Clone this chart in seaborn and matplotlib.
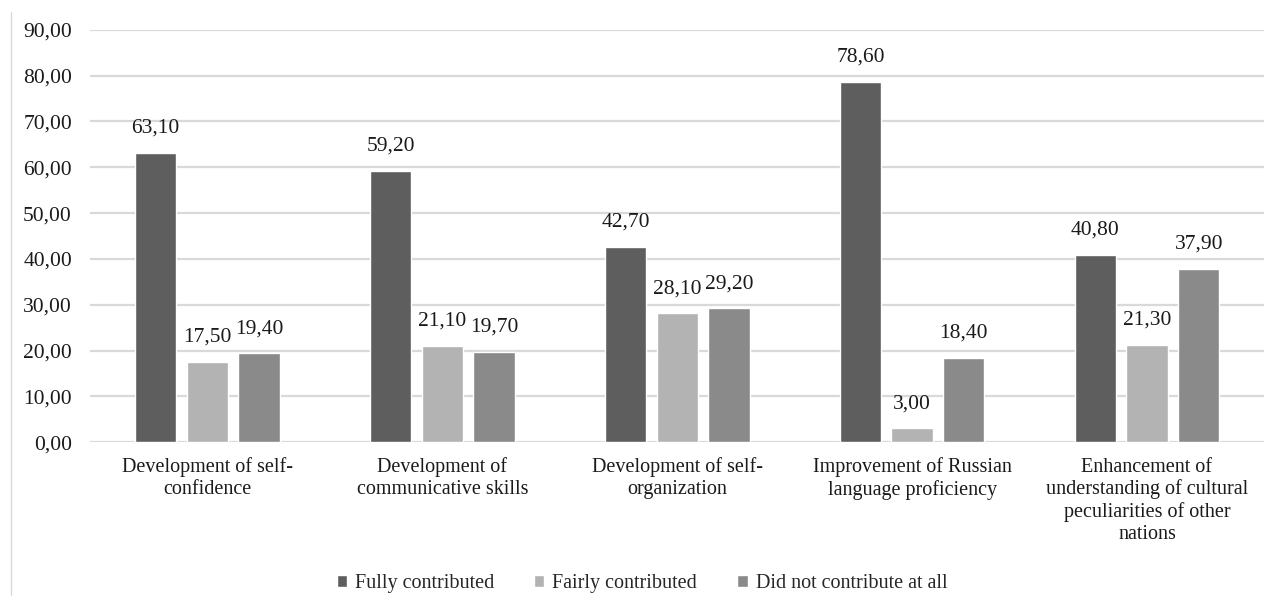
import matplotlib
matplotlib.use("Agg")
import matplotlib.pyplot as plt
import seaborn as sns
import pandas as pd
from matplotlib.lines import Line2D

categories = [
    "Development of self-\nconfidence",
    "Development of\ncommunicative skills",
    "Development of self-\norganization",
    "Improvement of Russian\nlanguage proficiency",
    "Enhancement of\nunderstanding of cultural\npeculiarities of other\nnations",
]
series = ["Fully contributed", "Fairly contributed", "Did not contribute at all"]
fully = [63.1, 59.2, 42.7, 78.6, 40.8]
fairly = [17.5, 21.1, 28.1, 3.0, 21.3]
not_at_all = [19.4, 19.7, 29.2, 18.4, 37.9]
yticks = [0, 10, 20, 30, 40, 50, 60, 70, 80, 90]

df = pd.DataFrame({
    "category": categories * 3,
    "series": [series[0]] * 5 + [series[1]] * 5 + [series[2]] * 5,
    "value": fully + fairly + not_at_all,
})

sns.set_theme(style="white")
plt.rcParams["font.family"] = ["Liberation Serif", "DejaVu Serif"]

palette = ["#5e5e5e", "#b3b3b3", "#8a8a8a"]

fig = plt.figure(figsize=(12.85, 5.96), dpi=100)
ax = fig.add_axes([0.070, 0.258, 0.914, 0.692])

sns.barplot(data=df, x="category", y="value", hue="series", hue_order=series,
            palette=palette, width=0.66, gap=0.2, saturation=1, ax=ax)

for cont in ax.containers:
    ax.bar_label(cont, labels=[f"{v:.2f}".replace(".", ",") for v in cont.datavalues],
                 padding=11, fontsize=15.5, color="#1a1a1a")

ax.set_ylim(0, 90)
ax.set_yticks(yticks)
ax.set_yticklabels([f"{v:.2f}".replace(".", ",") for v in yticks], fontsize=15.5, color="#1a1a1a")
ax.tick_params(axis="x", labelsize=14.5, colors="#1a1a1a", length=0, pad=11)
ax.tick_params(axis="y", length=0, pad=13)
ax.set_xlabel("")
ax.set_ylabel("")
ax.yaxis.grid(True, color="#d9d9d9", linewidth=1.6)
ax.set_axisbelow(True)
for s in ax.spines.values():
    s.set_visible(False)

ax.legend(loc="lower center", bbox_to_anchor=(0.47, -0.41), ncol=3, frameon=False,
          fontsize=14.5, handlelength=0.5, handleheight=0.5, handletextpad=0.4,
          columnspacing=2.0)

fig.add_artist(Line2D([11 / 1285, 11 / 1285], [0, 1 - 12 / 596], color="#d9d9d9", linewidth=1))

fig.savefig("out.png", dpi=100)
